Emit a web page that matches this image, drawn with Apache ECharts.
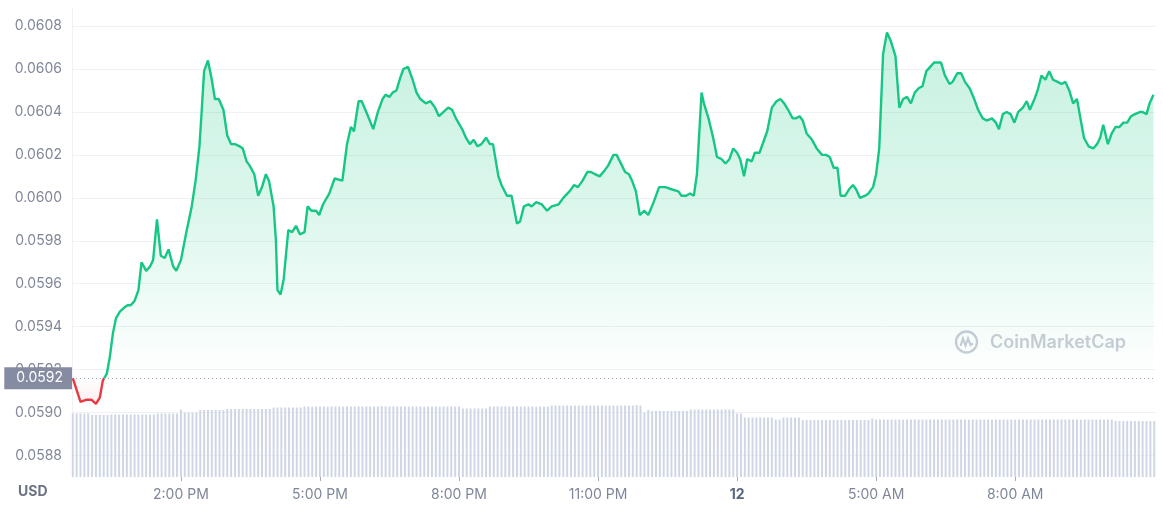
<!DOCTYPE html>
<html>
<head>
<meta charset="utf-8">
<script src="https://cdn.jsdelivr.net/npm/echarts@6/dist/echarts.min.js"></script>
<style>
html,body{margin:0;padding:0;background:#fff;}
#chart{width:1163px;height:507px;}
</style>
</head>
<body>
<div id="chart"></div>
<script>
// time in minutes after 11:00 AM (day 11)
const priceTimes = [40,50,58,64,70,75,79,84,88,92,96,101,107,111,115,120,125,129,135,140,144,149,154,159,164,170,174,180,
187,194,199,204,207,210,215,220,224,229,235,240,245,250,256,260,265,269,275,280,285,290,294,300,303,305,309,313,319,324,329,334,340,344,349,355,359,364,372,379,389,395,400,404,410,
414,420,429,435,441,445,450,454,459,464,468,474,480,485,490,497,503,509,514,520,526,531,536,544,549,554,559,564,569,575,580,584,591,595,602,608,615,619,624,630,634,640,647,654,660,669,675,683,689,694,700,706,711,716,722,
729,733,740,744,751,755,760,764,769,774,780,785,792,799,807,815,824,828,834,839,844,848,851,854,857,863,869,874,880,885,890,895,900,904,909,913,919,923,929,934,939,945,951,956,961,966,972,976,981,985,990,997,1003,1010,1015,1020,1025,1030,1034,1040,1045,1050,1054,1059,1066,1070,1076,1080,1084,
1089,1094,1099,1105,1110,1115,1120,1125,1130,1135,1140,1145,1150,1155,1164,1169,1175,1179,1185,1190,1195,1201,1207,1212,1218,1223,1230,1235,1239,1244,1249,1254,1259,1264,1270,1275,1279,1285,1289,1294,1299,1304,1309,1315,1320,1325,1330,1335,1340,1345,1349,1355,1361,1366,1370,1374,1380,1385,1390,1395,1400,1405,1410,1415,1422,1425,1430,1434,1439];

const prices = [0.05916,0.05905,0.05906,0.05906,0.05904,0.05907,0.05915,0.05918,0.05926,0.05937,0.05944,0.05947,0.05949,0.05950,0.05950,0.05952,0.05957,0.05970,0.05966,0.05968,0.05971,0.05990,0.05973,0.05972,0.05976,0.05968,0.05966,0.05971,
0.05984,0.05996,0.06008,0.06024,0.06041,0.06059,0.06064,0.06055,0.06046,0.06046,0.06041,0.06029,0.06025,0.06025,0.06024,0.06023,0.06017,0.06015,0.06011,0.06001,0.06005,0.06011,0.06008,0.05996,0.05980,0.05957,0.05955,0.05962,0.05985,0.05984,0.05987,0.05983,0.05984,0.05996,0.05994,0.05994,0.05992,0.05997,0.06002,0.06009,0.06008,0.06025,0.06033,0.06031,0.06045,
0.06045,0.06040,0.06032,0.06040,0.06046,0.06048,0.06047,0.06049,0.06050,0.06056,0.06060,0.06061,0.06055,0.06049,0.06046,0.06044,0.06045,0.06042,0.06038,0.06040,0.06042,0.06041,0.06037,0.06032,0.06028,0.06025,0.06027,0.06024,0.06025,0.06028,0.06025,0.06025,0.06010,0.06006,0.06001,0.06001,0.05988,0.05989,0.05996,0.05997,0.05996,0.05998,0.05997,0.05994,0.05996,0.05997,0.06000,0.06003,0.06006,0.06005,0.06008,0.06012,0.06012,0.06011,0.06010,
0.06013,0.06015,0.06020,0.06020,0.06015,0.06012,0.06011,0.06008,0.06003,0.05992,0.05994,0.05992,0.05998,0.06005,0.06005,0.06004,0.06003,0.06001,0.06001,0.06002,0.06001,0.06011,0.06030,0.06049,0.06044,0.06037,0.06028,0.06019,0.06018,0.06016,0.06018,0.06023,0.06021,0.06018,0.06010,0.06018,0.06017,0.06021,0.06021,0.06026,0.06031,0.06042,0.06045,0.06046,0.06044,0.06041,0.06037,0.06037,0.06038,0.06036,0.06030,0.06027,0.06023,0.06020,0.06020,0.06019,0.06014,0.06014,0.06001,0.06001,0.06004,0.06006,0.06004,0.06000,0.06001,0.06002,0.06005,0.06011,0.06023,
0.06067,0.06077,0.06073,0.06066,0.06042,0.06046,0.06047,0.06044,0.06049,0.06051,0.06052,0.06059,0.06061,0.06063,0.06063,0.06057,0.06053,0.06054,0.06058,0.06058,0.06054,0.06051,0.06046,0.06041,0.06037,0.06036,0.06037,0.06035,0.06032,0.06039,0.06040,0.06039,0.06035,0.06040,0.06042,0.06045,0.06041,0.06046,0.06050,0.06057,0.06055,0.06059,0.06055,0.06054,0.06053,0.06054,0.06050,0.06044,0.06046,0.06036,0.06028,0.06024,0.06023,0.06025,0.06028,0.06034,0.06025,0.06030,0.06033,0.06033,0.06035,0.06035,0.06038,0.06039,0.06040,0.06040,0.06039,0.06044,0.06048];

// volume bars, one every 5 minutes starting at minute 40 (relative units)
const volumeStart = 40;
const volumeStep = 5;
const volumes = [
63.5,63.5,63.5,63.5,63.5, 62,62,62,62,62,
62.5,62.5,62.5,62.5,62.5,62.5,62.5,62.5,62.5,62.5,62.5,62.5,
63.5,63.5,63.5,63.5,63.5,63.5, 67.5, 64.5,64.5,64.5,64.5,
67,67,67,67,67,67,67,
68,68,68,68,68,68,68,68,68,68,68,68,
69.5,69.5,69.5,69.5,69.5,69.5,69.5,69.5,
70.5,70.5,70.5,70.5,70.5,70.5,70.5,70.5,70.5,70.5,70.5,70.5,70.5,70.5,70.5,70.5,70.5,70.5,70.5,70.5,71,70.5,70.5,70.5,70.5,
70.5,70.5,70.5,70.5,70.5,70.5,70.5,70.5,70.5,70.5,70.5,70.5,70.5,70.5,70.5,70.5,
68.5,68.5,68.5,68.5,68.5,68.5,68.5,
70.5,70.5,70.5,70.5,70.5,70.5,70.5,70.5,70.5,70.5,70.5,70.5,70.5,70.5,70.5,70.5,
71.5,71.5,71.5,71.5,71.5,71.5,71.5,71.5,71.5,71.5,71.5,71.5,71.5,71.5,71.5,71.5,71.5,71.5,71.5,71.5,71.5,71.5,
72,71.5,64.5,67,
66,66,66,66,66,66,66,66,66,66,
67.5,67.5,67.5,67.5,67.5,67.5,67.5,67.5,67.5,67.5,67.5,67.5,
63.5,63.5,
59.5,59.5,59.5,59.5,59.5,59.5,59.5,59.5, 57.5,57.5, 59.5,59.5,59.5,59.5,59.5,
57,57,57,57,57,57,57,57,57,57,57,57,57,57,57,57,57,57, 58.5,
57.5,57.5,57.5,57.5,57.5,57.5,57.5,57.5,57.5,57.5,57.5,57.5,57.5,57.5,57.5,57.5,57.5,57.5,57.5,57.5,
57.5,57.5,57.5,57.5,57.5,57.5,57.5,57.5,57.5,57.5,57.5,57.5,57.5,57.5,57.5,57.5,57.5,57.5,57.5,57.5,
57.5,57.5,57.5,57.5,57.5,57.5,57.5,57.5,57.5,57.5,57.5,57.5,57.5,57.5,57.5,57.5,57.5,57.5,57.5,57.5,
57.5,57.5,
56,56,56,56,56,56,56,56,56,56,56
];

const yTicks = [0.0588,0.0590,0.0592,0.0594,0.0596,0.0598,0.0600,0.0602,0.0604,0.0606,0.0608];
const xTicks = [180,360,540,720,900,1080,1260];
const xTickLabels = ['2:00 PM','5:00 PM','8:00 PM','11:00 PM','12','5:00 AM','8:00 AM'];
const boldXLabels = ['12'];

const base = prices[0];
const lineData = priceTimes.map((t, i) => [t, prices[i]]);
const volData = volumes.map((v, i) => [volumeStart + i * volumeStep, v]);

const FONT = 'Inter, "Noto Sans", sans-serif';
const Y_MIN = 0.0587, Y_MAX = 0.060884;
const GRID_TOP = 8, GRID_BOTTOM_PX = 507 - 30;
// fraction of the plot height (from the top) where the opening price lies
const cut = (Y_MAX - base) / (Y_MAX - Y_MIN);
const GREEN = '#16c784', RED = '#ea3943';

const chart = echarts.init(document.getElementById('chart'), null, {renderer: 'canvas'});

const option = {
  animation: false,
  backgroundColor: '#ffffff',
  grid: [
    {left: 72, right: 8, top: GRID_TOP, bottom: 30, containLabel: false, outerBoundsMode: 'none'},
    {left: 72, right: 8, bottom: 30, height: 75, containLabel: false, outerBoundsMode: 'none'}
  ],
  xAxis: [
    {
      type: 'value', gridIndex: 0, min: 39, max: 1441,
      axisLine: {show: false},
      splitLine: {show: false},
      axisTick: {show: true, length: 4, lineStyle: {color: '#a7aebb'}, customValues: xTicks},
      axisLabel: {
        customValues: xTicks, margin: 11, fontSize: 14, fontFamily: FONT, color: '#7e8699',
        formatter: v => {
          const s = xTickLabels[xTicks.indexOf(v)];
          return boldXLabels.indexOf(s) >= 0 ? '{b|' + s + '}' : s;
        },
        rich: {b: {fontWeight: 'bold', color: '#58667e', fontSize: 14, fontFamily: FONT}}
      }
    },
    {type: 'value', gridIndex: 1, min: 39, max: 1441, show: false}
  ],
  yAxis: [
    {
      type: 'value', gridIndex: 0, min: Y_MIN, max: Y_MAX, scale: true,
      axisLine: {show: true, lineStyle: {color: '#eff1f5'}},
      axisTick: {show: false, customValues: yTicks},
      splitLine: {show: true, lineStyle: {color: '#eff1f5', width: 1}},
      axisLabel: {customValues: yTicks, margin: 10, fontSize: 14, fontFamily: FONT, color: '#80879a',
        formatter: v => v.toFixed(4)}
    },
    {type: 'value', gridIndex: 1, min: 0, max: 75, show: false}
  ],
  series: [
    {
      type: 'bar', xAxisIndex: 1, yAxisIndex: 1, data: volData, barWidth: 2, silent: true,
      itemStyle: {color: '#cfd6e4'}, z: 1
    },
    {
      type: 'line', xAxisIndex: 0, yAxisIndex: 0, data: lineData, symbol: 'none', silent: true, z: 3,
      lineStyle: {
        width: 2.4,
        color: {
          type: 'linear', x: 0, y: GRID_TOP, x2: 0, y2: GRID_BOTTOM_PX, global: true,
          colorStops: [
            {offset: 0, color: GREEN}, {offset: cut, color: GREEN},
            {offset: cut, color: RED}, {offset: 1, color: RED}
          ]
        }
      },
      areaStyle: {
        origin: base,
        color: {
          type: 'linear', x: 0, y: GRID_TOP, x2: 0, y2: GRID_BOTTOM_PX, global: true,
          colorStops: [
            {offset: 0, color: 'rgba(22,199,132,0.36)'},
            {offset: cut * 0.55, color: 'rgba(22,199,132,0.21)'},
            {offset: cut, color: 'rgba(22,199,132,0.0)'},
            {offset: cut, color: 'rgba(234,57,67,0.0)'},
            {offset: cut + 0.07, color: 'rgba(234,57,67,0.16)'},
            {offset: 1, color: 'rgba(234,57,67,0.16)'}
          ]
        }
      },
      markLine: {
        silent: true, symbol: ['none', 'none'], precision: 8,
        data: [{yAxis: base}],
        lineStyle: {type: [1, 3], color: '#9aa3b5', width: 1},
        label: {
          position: 'start', distance: 0, formatter: base.toFixed(4),
          color: '#ffffff', backgroundColor: '#858ca2', padding: [3, 9, 3, 12],
          fontSize: 14, lineHeight: 16, fontFamily: FONT
        }
      }
    }
  ],
  graphic: [
    {type: 'text', left: 18, top: 485, style: {text: 'USD', fontSize: 14, fontWeight: 'bold', fontFamily: FONT, fill: '#6b7385'}},
    {
      type: 'group', x: 966.5, y: 342, silent: true,
      children: [
        {type: 'circle', shape: {cx: 0, cy: 0, r: 10.5}, style: {fill: 'none', stroke: '#c9cdd6', lineWidth: 2.4}},
        {type: 'polyline', shape: {points: [[-6, 4], [-3.5, -3.5], [-1, 3.5], [1.5, -3.5], [4, 3], [6.5, 1.5]]},
          style: {fill: 'none', stroke: '#c9cdd6', lineWidth: 2.2}}
      ]
    },
    {type: 'text', x: 990, y: 343, silent: true,
      style: {text: 'CoinMarketCap', fontSize: 18, fontWeight: 600, fontFamily: FONT, fill: '#c9cdd6', textVerticalAlign: 'middle', verticalAlign: 'middle'}}
  ]
};
chart.setOption(option);
</script>
</body>
</html>
